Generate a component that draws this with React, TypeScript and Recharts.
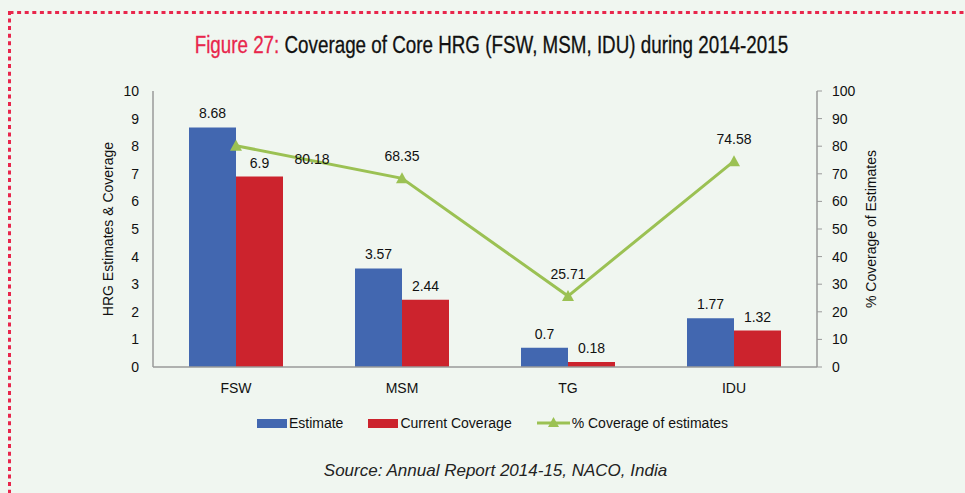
import { ComposedChart, Bar, Line, XAxis, YAxis, Legend, LabelList } from 'recharts';

const categories = ['FSW', 'MSM', 'TG', 'IDU'];
const estimate = [8.68, 3.57, 0.7, 1.77];
const currentCoverage = [6.9, 2.44, 0.18, 1.32];
const pctCoverage = [80.18, 68.35, 25.71, 74.58];
const leftTicks = [0, 1, 2, 3, 4, 5, 6, 7, 8, 9, 10];
const rightTicks = [0, 10, 20, 30, 40, 50, 60, 70, 80, 90, 100];
const seriesOrder = ['estimate', 'current', 'pct'];

const data = categories.map((name, i) => ({
  name,
  estimate: estimate[i],
  current: currentCoverage[i],
  pct: pctCoverage[i],
}));

const FONT = '"Liberation Sans", Arial, sans-serif';
const BLUE = '#4267b0';
const RED = '#cc232d';
const GREEN = '#9bc153';
const AXIS = '#9a9a9a';

const Triangle = (props: any) => {
  const { cx, cy } = props;
  if (cx == null || cy == null) return null;
  return <path d={`M${cx},${cy - 6} L${cx + 6},${cy + 5} L${cx - 6},${cy + 5} Z`} fill={GREEN} />;
};

const pctLabel = (props: any) => {
  const { x, y, value, index } = props;
  // first label sits off to the right, like the original
  const lx = index === 0 ? x + 76 : x;
  const ly = index === 0 ? y + 18 : y - 17;
  return (
    <text x={lx} y={ly} textAnchor="middle" fontSize={14} fill="#111" fontFamily={FONT}>
      {value}
    </text>
  );
};

const renderLegend = (props: any) => {
  const payload = [...(props.payload || [])].sort(
    (a: any, b: any) => seriesOrder.indexOf(a.dataKey) - seriesOrder.indexOf(b.dataKey),
  );
  return (
    <div style={{ display: 'flex', justifyContent: 'center', alignItems: 'center', fontFamily: FONT, fontSize: 14, color: '#111' }}>
      {payload.map((entry: any, i: number) => (
        <div key={entry.value} style={{ display: 'flex', alignItems: 'center', marginRight: i < payload.length - 1 ? 25 : 0 }}>
          {entry.dataKey === 'pct' ? (
            <svg width={33} height={14}>
              <line x1={0} y1={7} x2={33} y2={7} stroke={GREEN} strokeWidth={3} />
              <path d="M16.5,1 L22,11 L11,11 Z" fill={GREEN} />
            </svg>
          ) : (
            <div style={{ width: 30, height: 9, background: entry.color }} />
          )}
          <span style={{ marginLeft: 2 }}>{entry.value}</span>
        </div>
      ))}
    </div>
  );
};

export default function App() {
  return (
    <div style={{ position: 'absolute', left: 0, top: 0, width: 965, height: 493, background: '#f0f6f0', overflow: 'hidden' }}>
      <svg width={965} height={493} style={{ position: 'absolute', left: 0, top: 0 }}>
        <rect x={9.5} y={12.5} width={1000} height={1000} fill="none" stroke="#e8264c" strokeWidth={3} strokeDasharray="4 3.6" />
      </svg>
      <div
        style={{
          position: 'absolute', left: 9, top: 33, width: 965, textAlign: 'center',
          fontFamily: FONT, fontSize: 23.5, lineHeight: '24px', color: '#111',
          WebkitTextStroke: '0.3px #111',
          transform: 'scaleX(0.8)', transformOrigin: '482px 0',
        }}
      >
        <span style={{ color: '#e8264c', WebkitTextStroke: '0.3px #e8264c' }}>Figure 27:</span> Coverage of Core HRG (FSW, MSM, IDU) during 2014-2015
      </div>
      <div style={{ position: 'absolute', left: 0, top: 0 }}>
        <ComposedChart
          width={965}
          height={493}
          data={data}
          margin={{ top: 91, right: 78, bottom: 96, left: 93 }}
          barCategoryGap={36}
          barGap={0}
        >
          <XAxis
            dataKey="name"
            height={30}
            axisLine={{ stroke: AXIS, strokeWidth: 1.5 }}
            tickLine={false}
            tickMargin={10}
            tick={{ fontSize: 14, fill: '#111', fontFamily: FONT }}
          />
          <YAxis
            yAxisId="left"
            width={60}
            domain={[0, 10]}
            ticks={leftTicks}
            interval={0}
            axisLine={{ stroke: AXIS, strokeWidth: 1.5 }}
            tickLine={false}
            tickMargin={8}
            tick={{ fontSize: 14, fill: '#111', fontFamily: FONT }}
            label={{ value: 'HRG Estimates & Coverage', angle: -90, position: 'center', dx: -15, fontSize: 14, fill: '#111', fontFamily: FONT }}
          />
          <YAxis
            yAxisId="right"
            orientation="right"
            width={70}
            domain={[0, 100]}
            ticks={rightTicks}
            interval={0}
            axisLine={{ stroke: AXIS, strokeWidth: 1.5 }}
            tickLine={{ stroke: AXIS }}
            tickSize={5}
            tickMargin={10}
            tick={{ fontSize: 14, fill: '#111', fontFamily: FONT, textAnchor: 'start' }}
            label={{ value: '%  Coverage of Estimates', angle: -90, position: 'center', dx: 19, fontSize: 14, fill: '#111', fontFamily: FONT }}
          />
          <Legend
            verticalAlign="middle"
            align="center"
            layout="horizontal"
            content={renderLegend}
            wrapperStyle={{ top: 415, left: 10, width: 965 }}
          />
          <Bar yAxisId="left" dataKey="estimate" name="Estimate" fill={BLUE} isAnimationActive={false}>
            <LabelList dataKey="estimate" position="top" offset={9} fontSize={14} fill="#111" fontFamily={FONT} />
          </Bar>
          <Bar yAxisId="left" dataKey="current" name="Current Coverage" fill={RED} isAnimationActive={false}>
            <LabelList dataKey="current" position="top" offset={9} fontSize={14} fill="#111" fontFamily={FONT} />
          </Bar>
          <Line
            yAxisId="right"
            dataKey="pct"
            name="% Coverage of estimates"
            stroke={GREEN}
            strokeWidth={3}
            dot={<Triangle />}
            activeDot={false}
            isAnimationActive={false}
          >
            <LabelList dataKey="pct" content={pctLabel} />
          </Line>
        </ComposedChart>
      </div>
      <div
        style={{
          position: 'absolute', left: 13, top: 462, width: 965, textAlign: 'center',
          fontFamily: FONT, fontStyle: 'italic', fontSize: 17, lineHeight: '17px', color: '#222',
        }}
      >
        Source: Annual Report 2014-15, NACO, India
      </div>
    </div>
  );
}
